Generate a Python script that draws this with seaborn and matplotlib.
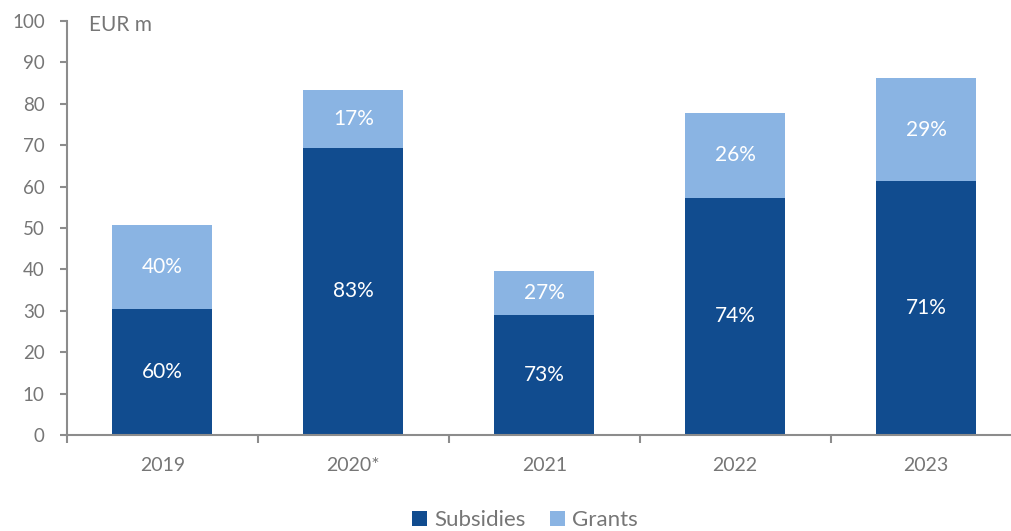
import matplotlib
matplotlib.use("Agg")
import matplotlib.pyplot as plt
import seaborn as sns
import pandas as pd
import numpy as np

years = ["2019", "2020*", "2021", "2022", "2023"]
subsidies = [30.5, 69.4, 28.9, 57.3, 61.3]
grants = [20.2, 14.0, 10.7, 20.5, 24.9]

dark_blue = "#114C8F"
light_blue = "#8AB4E3"
grey_text = "#767676"
spine_grey = "#8C8C8C"

sns.set_style("white")
plt.rcParams["font.family"] = ["Lato", "DejaVu Sans"]

df = pd.DataFrame({"year": years, "Subsidies": subsidies, "Grants": grants})
df["total"] = df["Subsidies"] + df["Grants"]

fig = plt.figure(figsize=(10.12, 5.31), dpi=100)
ax = fig.add_axes([0.0662, 0.1808, 1.0 - 0.0662, 0.9605 - 0.1808])

bar_w = 0.524
sns.barplot(data=df, x="year", y="total", color=light_blue, width=bar_w,
            linewidth=0, saturation=1, ax=ax, label="Grants")
sns.barplot(data=df, x="year", y="Subsidies", color=dark_blue, width=bar_w,
            linewidth=0, saturation=1, ax=ax, label="Subsidies")

# share labels centred in each segment
for i, row in df.iterrows():
    s_share = row["Subsidies"] / row["total"] * 100
    g_share = row["Grants"] / row["total"] * 100
    ax.text(i, row["Subsidies"] / 2, f"{s_share:.0f}%", ha="center", va="center",
            color="white", fontsize=15)
    ax.text(i, row["Subsidies"] + row["Grants"] / 2, f"{g_share:.0f}%", ha="center",
            va="center", color="white", fontsize=15)

ax.set_ylim(0, 100)
ax.set_yticks(np.arange(0, 101, 10))
ax.set_xlabel("")
ax.set_ylabel("")

for side in ["top", "right"]:
    ax.spines[side].set_visible(False)
for side in ["left", "bottom"]:
    ax.spines[side].set_color(spine_grey)
    ax.spines[side].set_linewidth(1.5)

ax.tick_params(axis="y", which="major", direction="out", length=5, width=1.5,
               color=spine_grey, labelcolor=grey_text, labelsize=13.5, pad=11, left=True)
ax.tick_params(axis="x", which="major", length=0, labelcolor=grey_text,
               labelsize=14, pad=16)
ax.set_xticks(np.arange(-0.5, 4.5, 1.0), minor=True)
ax.tick_params(axis="x", which="minor", direction="out", length=6, width=1.5,
               color=spine_grey, bottom=True)
ax.set_xlim(-0.5, 4.45)

ax.text(0.0233, 0.99, "EUR m", transform=ax.transAxes, ha="left", va="center",
        color=grey_text, fontsize=15)

handles, labels = ax.get_legend_handles_labels()
order = [labels.index("Subsidies"), labels.index("Grants")]
leg = fig.legend([handles[k] for k in order], [labels[k] for k in order],
                 loc="center", bbox_to_anchor=(0.519, 0.02), ncol=2, frameon=False,
                 fontsize=16, handlelength=0.65, handleheight=0.65,
                 handletextpad=0.35, columnspacing=1.1)
for t in leg.get_texts():
    t.set_color(grey_text)
if ax.get_legend() is not None:
    ax.get_legend().remove()

fig.savefig("out.png", dpi=100)
